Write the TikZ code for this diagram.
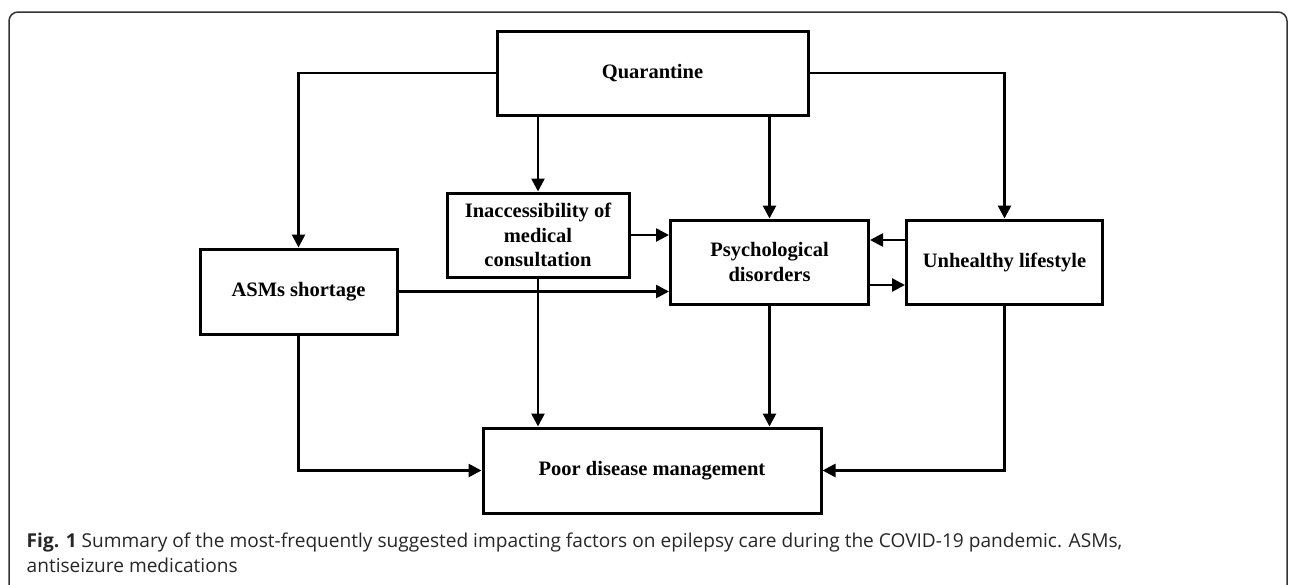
\documentclass[tikz,border=0pt]{standalone}
\usepackage{fontspec}
\setmainfont{Liberation Serif}
\newfontfamily\capfont{Open Sans}
\usetikzlibrary{arrows.meta}
\begin{document}
\begin{tikzpicture}[x=1pt,y=-1pt,
  box/.style={draw=black,line width=3pt,fill=white,align=center,inner sep=0pt,
    font=\fontsize{20.5}{24.8}\selectfont\bfseries},
  arr/.style={line width=2.6pt,-{Triangle[length=13pt,width=13pt]}},
  frame/.style={draw=black!80,line width=1.5pt,rounded corners=9pt},
  captext/.style={anchor=base west,inner sep=0pt,text=black!85,
    font=\capfont\fontsize{19.1}{25}\selectfont}]
\useasboundingbox (0,0) rectangle (1290,584);
\draw[frame] (9,600) -- (9,12) -- (1287,12) -- (1287,600);
\node[box,minimum width=311pt,minimum height=84pt] (Q) at (652.5,73) {Quarantine};
\node[box,minimum width=182pt,minimum height=84pt] (I) at (538,235) {Inaccessibility of\\medical\\consultation};
\node[box,minimum width=198pt,minimum height=84pt] (P) at (769.5,262) {Psychological\\disorders};
\node[box,minimum width=196pt,minimum height=84pt] (U) at (1004.5,262) {Unhealthy lifestyle};
\node[box,minimum width=197pt,minimum height=85pt] (A) at (298.5,291.5) {ASMs shortage};
\node[box,minimum width=338pt,minimum height=85pt] (D) at (652,470.5) {Poor disease management};
\draw[arr] (Q.west) -| (A.north);
\draw[arr] (Q.east) -| (U.north);
\draw[arr] (I.north |- Q.south) -- (I.north);
\draw[arr] (P.north |- Q.south) -- (P.north);
\draw[arr] (I.east) -- (P.west |- I.east);
\draw[arr] (A.east) -- (P.west |- A.east);
\draw[arr] ([yshift=22pt]U.west) -- ([yshift=22pt]P.east);
\draw[arr] ([yshift=-23pt]P.east) -- ([yshift=-23pt]U.west);
\draw[arr] (I.south) -- (D.north -| I.south);
\draw[arr] (P.south) -- (D.north -| P.south);
\draw[arr] (A.south) |- (D.west);
\draw[arr] (U.south) |- (D.east);
\node[captext] (cap1) at (26.5,547)
  {{\bfseries Fig. 1} Summary of the most-frequently suggested impacting factors on epilepsy care during the COVID-19 pandemic. ASMs,};
\node[captext] (cap2) at (26.5,572) {antiseizure medications};
\end{tikzpicture}
\end{document}
